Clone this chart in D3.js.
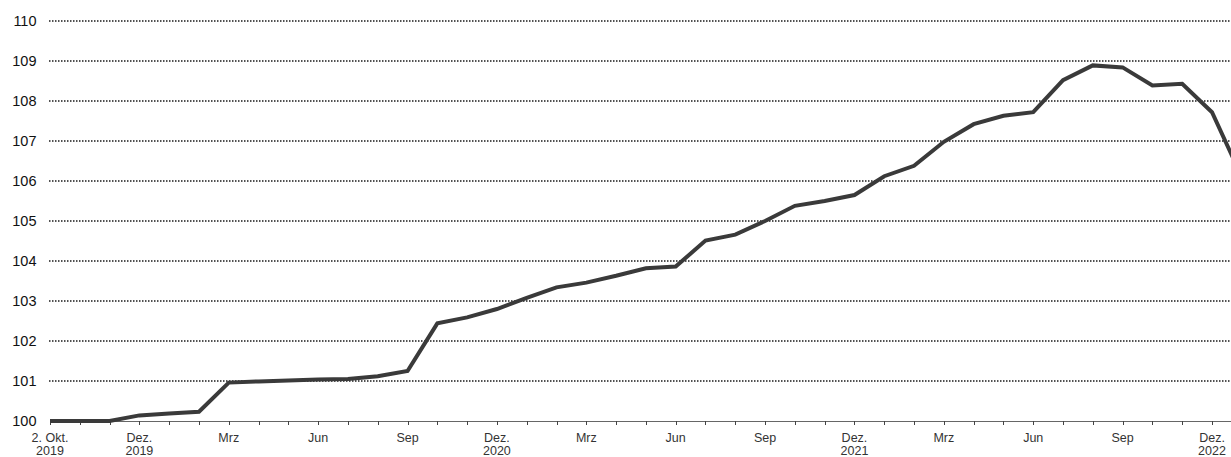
<!DOCTYPE html>
<html><head><meta charset="utf-8">
<script src="https://cdn.jsdelivr.net/npm/d3@7"></script>
<style>body{margin:0;background:#fff}svg{display:block;font-family:"Liberation Sans",Arial,sans-serif}</style>
</head><body>
<svg id="c" width="1231" height="457"></svg>
<script>
// categories: index 0 = "2. Okt. 2019", then monthly points (Okt 2019 ... Jan 2023)
const categories = ["2. Okt. 2019","Okt 2019","Nov 2019","Dez 2019","Jan 2020","Feb 2020","Mrz 2020","Apr 2020","Mai 2020","Jun 2020","Jul 2020","Aug 2020","Sep 2020","Okt 2020","Nov 2020","Dez 2020","Jan 2021","Feb 2021","Mrz 2021","Apr 2021","Mai 2021","Jun 2021","Jul 2021","Aug 2021","Sep 2021","Okt 2021","Nov 2021","Dez 2021","Jan 2022","Feb 2022","Mrz 2022","Apr 2022","Mai 2022","Jun 2022","Jul 2022","Aug 2022","Sep 2022","Okt 2022","Nov 2022","Dez 2022","Jan 2023"];
const values = [100,100,100,100.14,100.19,100.23,100.96,100.99,101.01,101.04,101.05,101.12,101.25,102.44,102.59,102.8,103.08,103.34,103.46,103.63,103.82,103.86,104.51,104.66,105.0,105.38,105.5,105.65,106.12,106.38,106.98,107.42,107.63,107.72,108.52,108.89,108.84,108.39,108.43,107.72,106.1];
const tickLabels = [[0,"2. Okt.","2019"],[3,"Dez.","2019"],[6,"Mrz",""],[9,"Jun",""],[12,"Sep",""],[15,"Dez.","2020"],[18,"Mrz",""],[21,"Jun",""],[24,"Sep",""],[27,"Dez.","2021"],[30,"Mrz",""],[33,"Jun",""],[36,"Sep",""],[39,"Dez.","2022"]];
const yTicks = [100,101,102,103,104,105,106,107,108,109,110];

const svg = d3.select("#c");
const W = 1231, left = 50, step = 29.795;
const x = d3.scaleLinear().domain([0, categories.length-1]).range([left, left + step*(categories.length-1)]);
const y = d3.scaleLinear().domain([100,110]).range([421,21]);

svg.append("defs").append("clipPath").attr("id","clip")
  .append("rect").attr("x",0).attr("y",0).attr("width",W).attr("height",457);

// gridlines
svg.append("g").selectAll("line").data(yTicks.filter(d=>d>100)).join("line")
  .attr("x1",left-1).attr("x2",W).attr("y1",d=>y(d)).attr("y2",d=>y(d))
  .attr("stroke","#1a1a1a").attr("stroke-width",1.6).attr("stroke-dasharray","1.5,1.5");

// y labels
svg.append("g").selectAll("text").data(yTicks).join("text")
  .attr("x",36.5).attr("y",d=>y(d)).attr("dy","0.36em").attr("text-anchor","end")
  .attr("font-size",14.5).attr("fill","#111").text(d=>d);

// x axis
const xa = svg.append("g");
xa.append("line").attr("x1",left).attr("x2",W).attr("y1",421.5).attr("y2",421.5).attr("stroke","#666").attr("stroke-width",1);
xa.selectAll("line.t").data(d3.range(0,categories.length)).join("line").attr("class","t")
  .attr("x1",d=>Math.round(x(d))+0.5).attr("x2",d=>Math.round(x(d))+0.5).attr("y1",421).attr("y2",425)
  .attr("stroke","#444").attr("stroke-width",1);
const lab = xa.selectAll("text").data(tickLabels).join("text")
  .attr("text-anchor","middle").attr("font-size",12.5).attr("fill","#333")
  .attr("transform",d=>`translate(${x(d[0])},0)`);
lab.append("tspan").attr("x",0).attr("y",441.5).text(d=>d[1]);
lab.append("tspan").attr("x",0).attr("y",454.5).text(d=>d[2]);

// line
svg.append("path").datum(values).attr("clip-path","url(#clip)")
  .attr("fill","none").attr("stroke","#3a3a3a").attr("stroke-width",4).attr("stroke-linejoin","miter")
  .attr("d", d3.line().x((d,i)=>x(i)).y(d=>y(d)));
</script>
</body></html>
